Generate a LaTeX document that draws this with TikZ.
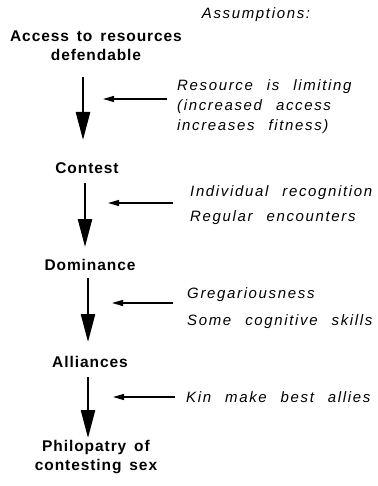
\documentclass[tikz,border=0pt]{standalone}
\usepackage{fontspec}
\setmainfont{Liberation Sans}
\usetikzlibrary{arrows.meta}
\newfontfamily\stagefont[LetterSpace=6,WordSpace=1.5]{Liberation Sans Bold}
\newfontfamily\notefont[LetterSpace=11,WordSpace=2.4]{Liberation Sans Italic}
\tikzset{
  stage/.style={align=center,font=\stagefont\fontsize{15.5}{19}\selectfont,inner sep=0pt},
  note/.style={align=left,anchor=west,font=\notefont\fontsize{15}{20}\selectfont,inner sep=0pt},
  big/.style={line width=2.6pt,-{Triangle[length=28pt,width=14pt]}},
  small/.style={line width=1.3pt,-{Triangle[length=11pt,width=6pt]}}
}
\begin{document}
\begin{tikzpicture}[x=1pt,y=-1pt,line join=round]
  \useasboundingbox (0,0) rectangle (377,486);
  % stages
  \node[stage] (acc) at (96,46) {Access to resources\\defendable};
  \node[stage] (con) at (87,168) {Contest};
  \node[stage] (dom) at (90,265) {Dominance};
  \node[stage] (all) at (90,362) {Alliances};
  \node[stage] (phi) at (96,457) {Philopatry of\\contesting sex};
  % assumptions
  \node[note,anchor=center] (ass) at (256,15) {Assumptions:};
  \node[note] (n1) at (177,107) {Resource is limiting\\(increased access\\increases fitness)};
  \node[note] (n2) at (190,205.5) {Individual recognition\\[5pt]Regular encounters};
  \node[note] (n3) at (187,308.5) {Gregariousness\\[7pt]Some cognitive skills};
  \node[note] (n4) at (186,397) {Kin make best allies};
  % arrow ends
  \coordinate (s1) at (83,77);  \coordinate (e1) at (83,140);
  \coordinate (s2) at (85,183); \coordinate (e2) at (85,247);
  \coordinate (s3) at (88,278); \coordinate (e3) at (88,342);
  \coordinate (s4) at (88,377); \coordinate (e4) at (88,438);
  \foreach \s/\e in {s1/e1,s2/e2,s3/e3,s4/e4}
    \draw[big] (\s) -- (\e);
  % assumption arrows
  \coordinate (p1) at (167,99);
  \coordinate (p2) at (173,203);
  \coordinate (p3) at (173,303);
  \coordinate (p4) at (175,397);
  \draw[small] (p1) -- ([xshift=-64pt]p1);
  \draw[small] (p2) -- ([xshift=-65pt]p2);
  \draw[small] (p3) -- ([xshift=-61pt]p3);
  \draw[small] (p4) -- ([xshift=-62pt]p4);
\end{tikzpicture}
\end{document}
